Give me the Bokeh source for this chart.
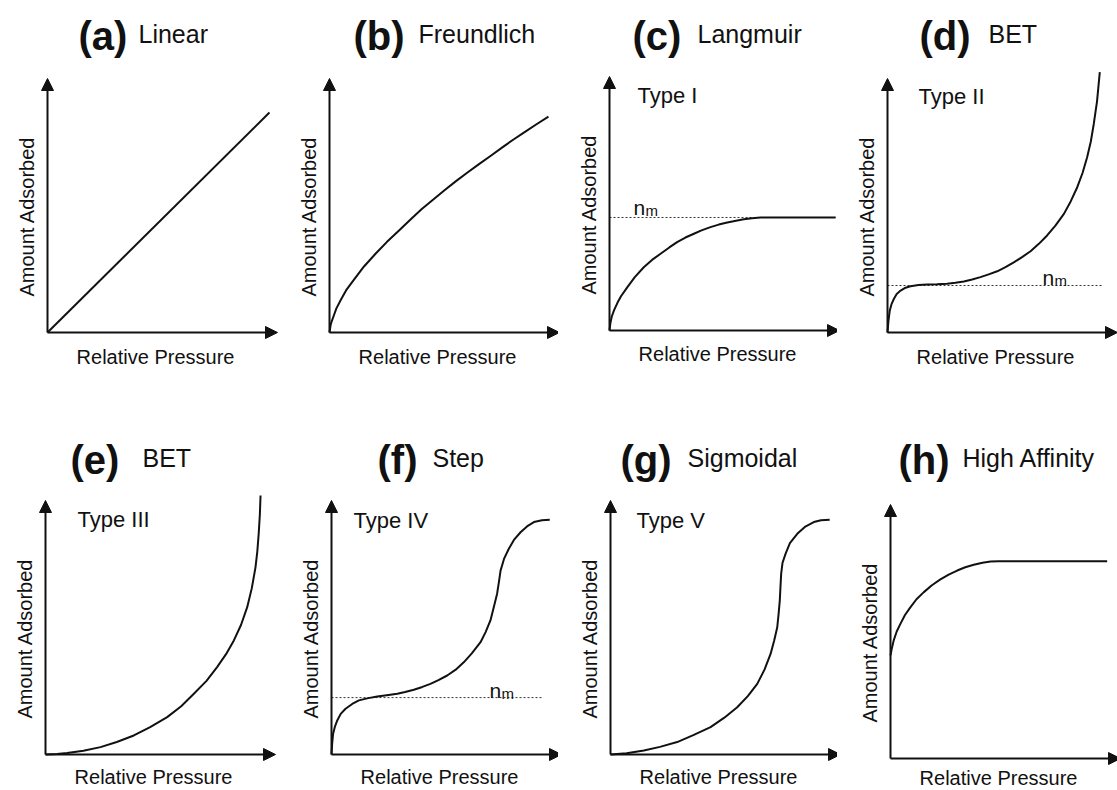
from math import pi
from bokeh.plotting import figure
from bokeh.models import Range1d, Label, Arrow, NormalHead
from bokeh.layouts import column, row
from bokeh.embed import file_html
from bokeh.resources import INLINE

# ---------------- text content ----------------
letters = ["(a)", "(b)", "(c)", "(d)", "(e)", "(f)", "(g)", "(h)"]
names = ["Linear", "Freundlich", "Langmuir", "BET", "BET", "Step", "Sigmoidal", "High Affinity"]
types = [None, None, "Type I", "Type II", "Type III", "Type IV", "Type V", None]
x_label = "Relative Pressure"
y_label = "Amount Adsorbed"

# ---------------- curve data (relative pressure, amount adsorbed) ----------------
lin_x = [0.0, 0.965]
lin_y = [0.0, 0.866]

fr_x = [0.0, 0.005, 0.01, 0.02, 0.03, 0.05, 0.075, 0.10, 0.15, 0.20, 0.25, 0.30, 0.35, 0.40,
        0.45, 0.50, 0.55, 0.60, 0.65, 0.70, 0.75, 0.80, 0.85, 0.90, 0.952]
fr_y = [0.0, 0.03, 0.045, 0.07, 0.095, 0.13, 0.17, 0.20, 0.26, 0.31, 0.357, 0.40, 0.443, 0.485,
        0.523, 0.56, 0.596, 0.63, 0.663, 0.695, 0.728, 0.76, 0.79, 0.82, 0.85]

lang_x = [0.0, 0.004, 0.01, 0.02, 0.035, 0.05, 0.077, 0.11, 0.149, 0.185, 0.222, 0.26, 0.294,
          0.33, 0.367, 0.40, 0.439, 0.475, 0.512, 0.55, 0.584, 0.62, 0.657, 0.983]
lang_y = [0.0, 0.03, 0.055, 0.08, 0.11, 0.135, 0.17, 0.21, 0.249, 0.278, 0.302, 0.327, 0.348,
          0.366, 0.381, 0.394, 0.407, 0.417, 0.425, 0.432, 0.438, 0.442, 0.445, 0.445]

bet2_x = [0.0, 0.004, 0.010, 0.018, 0.028, 0.04, 0.057, 0.075, 0.100, 0.135, 0.172, 0.215,
          0.259, 0.295, 0.332, 0.368, 0.404, 0.44, 0.477, 0.513, 0.549, 0.585, 0.622, 0.658,
          0.694, 0.73, 0.767, 0.797, 0.825, 0.848, 0.868, 0.884, 0.897, 0.911, 0.923]
bet2_y = [0.0, 0.045, 0.087, 0.113, 0.133, 0.152, 0.165, 0.175, 0.182, 0.187, 0.189, 0.190,
          0.192, 0.196, 0.201, 0.209, 0.218, 0.229, 0.241, 0.257, 0.276, 0.297, 0.320, 0.349,
          0.382, 0.421, 0.467, 0.517, 0.572, 0.628, 0.690, 0.752, 0.822, 0.91, 1.025]

bet3_x = [0.0, 0.05, 0.094, 0.165, 0.239, 0.31, 0.384, 0.455, 0.529, 0.59, 0.645, 0.70, 0.746,
          0.785, 0.819, 0.85, 0.877, 0.897, 0.913, 0.921, 0.927, 0.932, 0.935]
bet3_y = [0.0, 0.002, 0.006, 0.015, 0.029, 0.049, 0.075, 0.108, 0.147, 0.19, 0.239, 0.29, 0.344,
          0.395, 0.449, 0.51, 0.580, 0.655, 0.737, 0.80, 0.870, 0.945, 1.020]

step_x = [0.0, 0.003, 0.007, 0.015, 0.025, 0.04, 0.061, 0.09, 0.119, 0.16, 0.199, 0.24, 0.286,
          0.32, 0.358, 0.395, 0.430, 0.465, 0.503, 0.54, 0.575, 0.61, 0.648, 0.67, 0.691, 0.705,
          0.720, 0.728, 0.735, 0.75, 0.771, 0.795, 0.822, 0.85, 0.880, 0.915, 0.949]
step_y = [0.0, 0.045, 0.082, 0.11, 0.134, 0.16, 0.180, 0.199, 0.213, 0.222, 0.228, 0.233, 0.239,
          0.246, 0.255, 0.266, 0.278, 0.293, 0.311, 0.334, 0.363, 0.398, 0.442, 0.482, 0.528,
          0.578, 0.633, 0.68, 0.724, 0.77, 0.810, 0.847, 0.875, 0.898, 0.915, 0.922, 0.924]

sig_x = [0.0, 0.07, 0.145, 0.215, 0.290, 0.36, 0.435, 0.495, 0.551, 0.597, 0.638, 0.67, 0.696,
         0.712, 0.725, 0.731, 0.736, 0.739, 0.742, 0.748, 0.761, 0.78, 0.812, 0.845, 0.884,
         0.915, 0.953]
sig_y = [0.0, 0.005, 0.016, 0.03, 0.049, 0.076, 0.108, 0.145, 0.186, 0.23, 0.278, 0.335, 0.396,
         0.45, 0.501, 0.555, 0.606, 0.66, 0.711, 0.755, 0.790, 0.832, 0.869, 0.896, 0.915,
         0.922, 0.924]

high_x = [0.0, 0.005, 0.014, 0.027, 0.043, 0.063, 0.087, 0.113, 0.145, 0.18, 0.217, 0.253,
          0.290, 0.325, 0.362, 0.40, 0.435, 0.47, 0.942]
high_y = [0.406, 0.43, 0.465, 0.50, 0.530, 0.565, 0.596, 0.627, 0.655, 0.682, 0.705, 0.724,
          0.740, 0.753, 0.763, 0.771, 0.776, 0.777, 0.777]

curves_x = [lin_x, fr_x, lang_x, bet2_x, bet3_x, step_x, sig_x, high_x]
curves_y = [lin_y, fr_y, lang_y, bet2_y, bet3_y, step_y, sig_y, high_y]

# monolayer capacity n_m (dotted reference lines)
nm_level = [None, None, 0.445, 0.185, None, 0.224, None, None]
nm_end = [None, None, 0.983, 0.935, None, 0.922, None, None]

# ---------------- layout (pixels) ----------------
FIG_W = [279, 279, 279, 280]
FIG_H = 395
origins = [(47, 332), (329, 332), (609, 330), (887, 332),
           (45, 754), (331, 754), (610, 754), (890, 758)]
SX, SY = 230.0, 254.0
title_y = [33, 457]
letter_left = [78, 353, 632, 919, 70, 377, 620, 898]
name_left = [138, 418, 697, 988, 142, 432, 687, 962]
type_pos = [None, None, (637, 95), (918, 96), (77, 519), (353, 520), (636, 520), None]
nm_pos = [None, None, (633, 207), (1042, 277), None, (489, 690), None, None]
xlabel_dy = [24, 24, 23, 24, 22, 22, 22, 19]

FONT = "Liberation Sans"
INK = "#111111"


def make_panel(i):
    col, rw = i % 4, i // 4
    col_off = sum(FIG_W[:col])
    row_off = rw * FIG_H
    W = FIG_W[col]
    X0, Y0 = origins[i]
    x0l, y0l = X0 - col_off, Y0 - row_off

    p = figure(width=W, height=FIG_H, output_backend="svg", toolbar_location=None,
               x_axis_location=None, y_axis_location=None, title=None,
               x_range=Range1d(-x0l / SX, (W - x0l) / SX),
               y_range=Range1d((y0l - FIG_H) / SY, y0l / SY),
               min_border=0, min_border_left=0, min_border_right=0,
               min_border_top=0, min_border_bottom=0)
    p.outline_line_color = None
    p.background_fill_color = "white"
    p.border_fill_color = "white"
    p.xgrid.grid_line_color = None
    p.ygrid.grid_line_color = None

    def d(gx, gy):
        return (gx - X0) / SX, (Y0 - gy) / SY

    # axes drawn as arrows
    for xe, ye in [(1.0, 0.0), (0.0, 1.0)]:
        p.add_layout(Arrow(end=NormalHead(size=12, fill_color=INK, line_color=INK, line_width=1),
                           x_start=0, y_start=0, x_end=xe, y_end=ye,
                           line_width=2, line_color=INK))

    # n_m dotted line
    if nm_level[i] is not None:
        p.line([0.0, nm_end[i]], [nm_level[i], nm_level[i]], line_width=1,
               line_color="#333333", line_dash="2 2")
        nx, ny = d(*nm_pos[i])
        p.add_layout(Label(x=nx, y=ny, text="n", text_font=FONT, text_font_size="21px",
                           text_color=INK, text_baseline="alphabetic", text_align="left"))
        mx, my = d(nm_pos[i][0] + 12, nm_pos[i][1] + 3)
        p.add_layout(Label(x=mx, y=my, text="m", text_font=FONT, text_font_size="15px",
                           text_color=INK, text_baseline="alphabetic", text_align="left"))

    # curve
    p.line(curves_x[i], curves_y[i], line_width=2, line_color=INK, line_join="round")

    # titles
    ty = title_y[rw]
    lx, ly = d(letter_left[i], ty + 2)
    p.add_layout(Label(x=lx, y=ly, text=letters[i], text_font=FONT, text_font_size="40px",
                       text_font_style="bold", text_color=INK,
                       text_baseline="middle", text_align="left"))
    nx2, ny2 = d(name_left[i], ty)
    p.add_layout(Label(x=nx2, y=ny2, text=names[i], text_font=FONT, text_font_size="25px",
                       text_color=INK, text_baseline="middle", text_align="left"))

    if types[i] is not None:
        tx, tyy = d(*type_pos[i])
        p.add_layout(Label(x=tx, y=tyy, text=types[i], text_font=FONT, text_font_size="22px",
                           text_color=INK, text_baseline="middle", text_align="left"))

    # axis labels
    axx, axy = d(X0 + 108, Y0 + xlabel_dy[i])
    p.add_layout(Label(x=axx, y=axy, text=x_label, text_font=FONT, text_font_size="20px",
                       text_color=INK, text_baseline="middle", text_align="center"))
    ayx, ayy = d(X0 - 21, Y0 - 116)
    p.add_layout(Label(x=ayx, y=ayy, text=y_label, text_font=FONT, text_font_size="20px",
                       text_color=INK, text_baseline="middle", text_align="center",
                       angle=pi / 2))
    return p


panels = [make_panel(i) for i in range(8)]
layout = column(row(*panels[:4], spacing=0), row(*panels[4:], spacing=0), spacing=0)

open("out.html", "w").write(file_html(layout, INLINE))
